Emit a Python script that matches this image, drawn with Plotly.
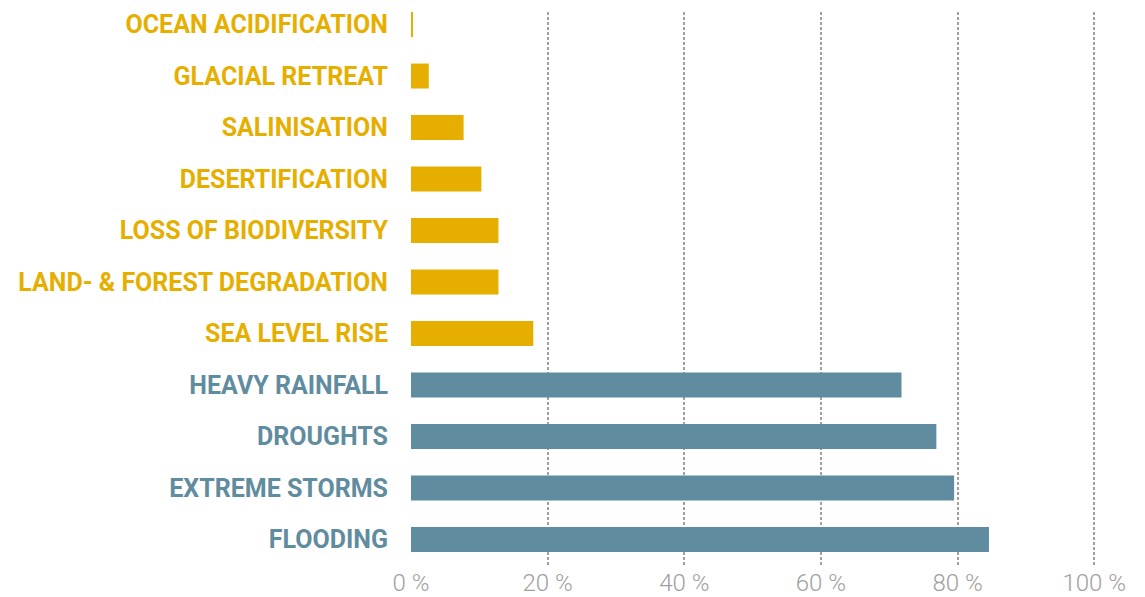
import plotly.graph_objects as go

categories = ["FLOODING", "EXTREME STORMS", "DROUGHTS", "HEAVY RAINFALL",
              "SEA LEVEL RISE", "LAND- & FOREST DEGRADATION", "LOSS OF BIODIVERSITY",
              "DESERTIFICATION", "SALINISATION", "GLACIAL RETREAT", "OCEAN ACIDIFICATION"]
values = [84.6, 79.5, 76.9, 71.8, 17.9, 12.8, 12.8, 10.3, 7.7, 2.6, 0.15]
groups = ["blue", "blue", "blue", "blue", "gold", "gold", "gold", "gold", "gold", "gold", "gold"]
x_ticks = [0, 20, 40, 60, 80, 100]
x_tick_labels = ["0 %", "20 %", "40 %", "60 %", "80 %", "100 %"]

palette = {"blue": "#5F8C9E", "gold": "#E6AF00"}
colors = [palette[g] for g in groups]

fig = go.Figure(go.Bar(
    x=values, y=list(range(len(categories))), orientation="h",
    marker=dict(color=colors, line=dict(width=0)),
    width=0.485, hoverinfo="x+text", text=categories, textposition="none",
))

fig.update_layout(
    width=1145, height=597,
    margin=dict(l=411, r=44, t=12, b=32),
    plot_bgcolor="white", paper_bgcolor="white",
    showlegend=False,
    xaxis=dict(range=[0, 101], tickvals=x_ticks, ticktext=x_tick_labels,
               showgrid=True, gridcolor="#A0A0A0", gridwidth=2, griddash="3px,2px",
               zeroline=False, showline=False, ticks="", ticklabelstandoff=1,
               automargin=False,
               tickfont=dict(family="Roboto", size=24, color="#A0A0A0", weight=300)),
    yaxis=dict(range=[-0.495, 10.243], tickvals=list(range(len(categories))),
               ticktext=[f"<span style='color:{c}'><b>{t}</b></span>" for t, c in zip(categories, colors)],
               showgrid=False, zeroline=False, showline=False, ticks="",
               ticklabelstandoff=22, automargin=False,
               tickfont=dict(family="Roboto", size=25)),
)

fig.write_html("out.html")
